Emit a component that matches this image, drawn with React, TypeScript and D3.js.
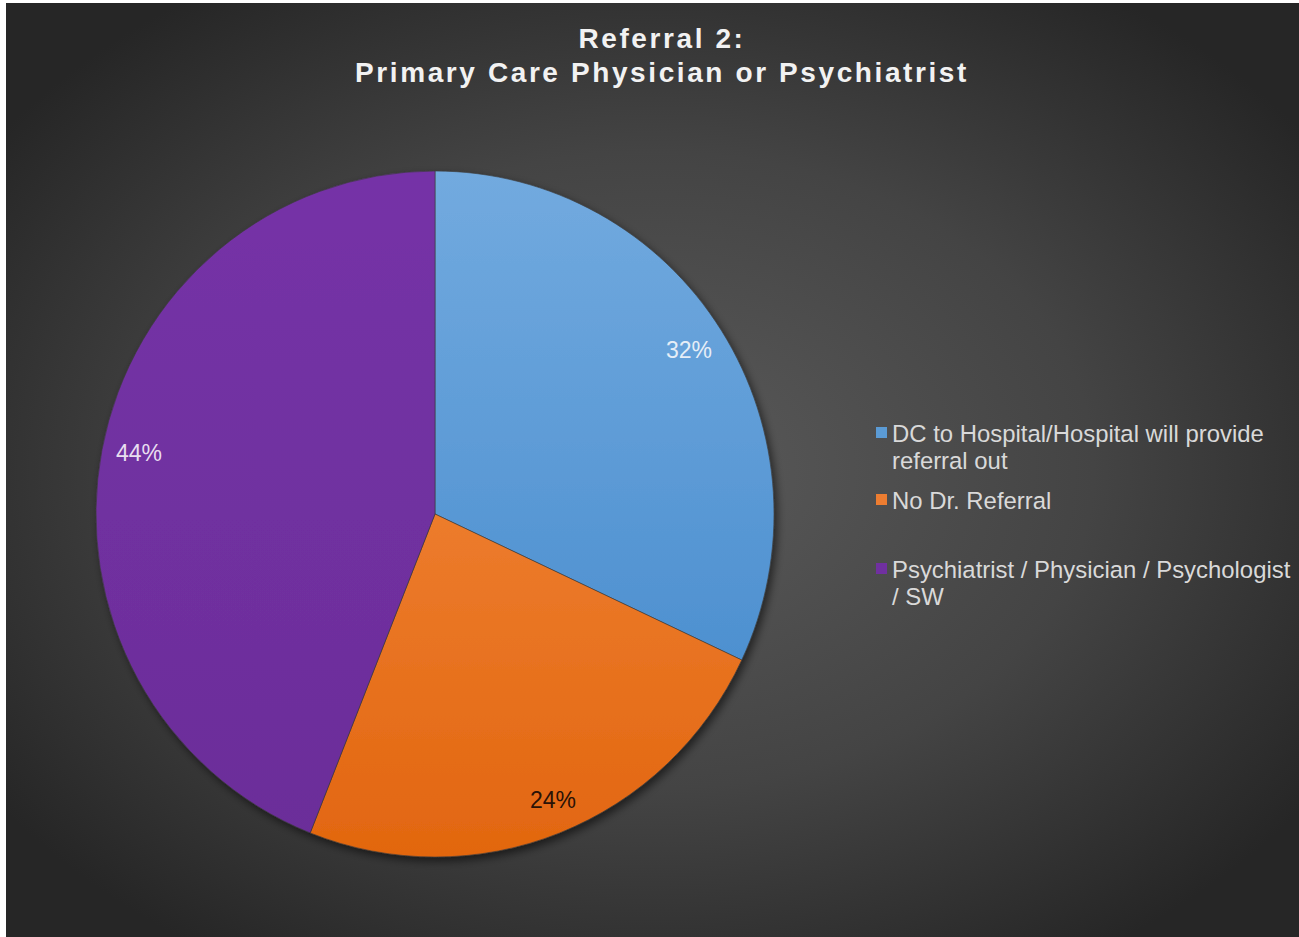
import React from "react";
import * as d3 from "d3";

const categories = [
  "DC to Hospital/Hospital will provide referral out",
  "No Dr. Referral",
  "Psychiatrist / Physician / Psychologist / SW",
];
const values = [32, 24, 44];
const labels = ["32%", "24%", "44%"];
const legendLines = [
  ["DC to Hospital/Hospital will provide", "referral out"],
  ["No Dr. Referral"],
  ["Psychiatrist / Physician / Psychologist", "/ SW"],
];
const titleLines = ["Referral 2:", "Primary Care Physician or Psychiatrist"];

const W = 1299;
const H = 937;
const cx = 435;
const cy = 514;
const R = 339;
const RY = 343;

const gradStops = [
  ["#72aadf", "#3f86ca"],
  ["#f7914a", "#e2660f"],
  ["#7533a7", "#6b2d99"],
];
const legendColors = ["#5b9bd5", "#ed7d31", "#7030a0"];
const labelColors = ["#e6eef7", "#2a1206", "#e8def0"];
const labelPos = [
  [689, 350],
  [553, 800],
  [139, 453],
];

export default function App() {
  const pie = d3.pie<number>().sort(null).value((d) => d);
  const arcs = pie(values);
  const arcGen = d3.arc<d3.PieArcDatum<number>>().innerRadius(0).outerRadius(R);
  const legendCenters = [433, 500, 569];
  const lineGap = 27;

  return (
    <svg
      width={W}
      height={H}
      style={{ position: "absolute", left: 0, top: 0, display: "block" }}
      fontFamily="'Liberation Sans', Arial, sans-serif"
    >
      <defs>
        <radialGradient id="bg" cx="0.5" cy="0.5" r="0.62">
          <stop offset="0" stopColor="#5a5a5a" />
          <stop offset="0.55" stopColor="#444444" />
          <stop offset="1" stopColor="#262626" />
        </radialGradient>
        {gradStops.map((g, i) => (
          <linearGradient
            key={i}
            id={`sg${i}`}
            gradientUnits="userSpaceOnUse"
            x1={0}
            y1={-R}
            x2={0}
            y2={R}
          >
            <stop offset="0" stopColor={g[0]} />
            <stop offset="1" stopColor={g[1]} />
          </linearGradient>
        ))}
        <filter id="shadow" x="-20%" y="-20%" width="140%" height="140%">
          <feDropShadow dx="3" dy="4" stdDeviation="4" floodColor="#000" floodOpacity="0.55" />
        </filter>
      </defs>
      <rect x={0} y={0} width={W} height={H} fill="#ffffff" />
      <rect x={6} y={3} width={W - 6} height={H - 3} fill="url(#bg)" />

      <g fill="#f2f2f2" fontWeight="bold" fontSize={28} textAnchor="middle" letterSpacing={2.6}>
        {titleLines.map((t, i) => (
          <text key={i} x={662} y={48 + i * 34}>
            {t}
          </text>
        ))}
      </g>

      <g transform={`translate(${cx},${cy}) scale(1,${RY / R})`} filter="url(#shadow)">
        {arcs.map((a, i) => (
          <path
            key={i}
            d={arcGen(a) || ""}
            fill={`url(#sg${i})`}
            stroke="#3a3a3a"
            strokeWidth={0.6}
          />
        ))}
      </g>

      <g fontSize={23} textAnchor="middle">
        {labels.map((l, i) => (
          <text key={i} x={labelPos[i][0]} y={labelPos[i][1] + 8} fill={labelColors[i]}>
            {l}
          </text>
        ))}
      </g>

      <g fontSize={23.9} fill="#d9d9d9">
        {legendLines.map((lines, i) => (
          <g key={i}>
            <rect x={876} y={legendCenters[i] - 6} width={11} height={11} fill={legendColors[i]} />
            {lines.map((ln, j) => (
              <text key={j} x={892} y={legendCenters[i] + 8.5 + j * lineGap}>
                {ln}
              </text>
            ))}
          </g>
        ))}
      </g>
    </svg>
  );
}
